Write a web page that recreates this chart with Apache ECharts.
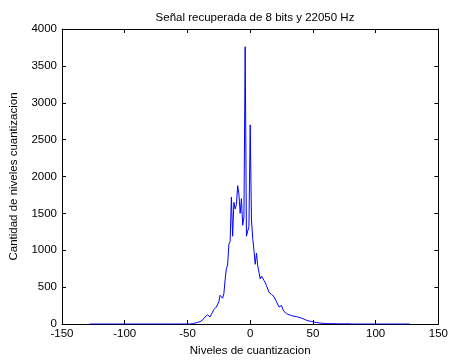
<!DOCTYPE html>
<html>
<head>
<meta charset="utf-8">
<script src="https://cdn.jsdelivr.net/npm/echarts@6/dist/echarts.min.js"></script>
<style>html,body{margin:0;padding:0;background:#fff;}#c{width:451px;height:362px;}</style>
</head>
<body>
<div id="c"></div>
<script>
var titleText = "Señal recuperada de 8 bits y 22050 Hz";
var xName = "Niveles de cuantizacion";
var yName = "Cantidad de niveles cuantizacion";
var levels = [-128,-127,-126,-125,-124,-123,-122,-121,-120,-119,-118,-117,-116,-115,-114,-113,-112,-111,-110,-109,-108,-107,-106,-105,-104,-103,-102,-101,-100,-99,-98,-97,-96,-95,-94,-93,-92,-91,-90,-89,-88,-87,-86,-85,-84,-83,-82,-81,-80,-79,-78,-77,-76,-75,-74,-73,-72,-71,-70,-69,-68,-67,-66,-65,-64,-63,-62,-61,-60,-59,-58,-57,-56,-55,-54,-53,-52,-51,-50,-49,-48,-47,-46,-45,-44,-43,-42,-41,-40,-39,-38,-37,-36,-35,-34,-33,-32,-31,-30,-29,-28,-27,-26,-25,-24,-23,-22,-21,-20,-19,-18,-17,-16,-15,-14,-13,-12,-11,-10,-9,-8,-7,-6,-5,-4,-3,-2,-1,0,1,2,3,4,5,6,7,8,9,10,11,12,13,14,15,16,17,18,19,20,21,22,23,24,25,26,27,28,29,30,31,32,33,34,35,36,37,38,39,40,41,42,43,44,45,46,47,48,49,50,51,52,53,54,55,56,57,58,59,60,61,62,63,64,65,66,67,68,69,70,71,72,73,74,75,76,77,78,79,80,81,82,83,84,85,86,87,88,89,90,91,92,93,94,95,96,97,98,99,100,101,102,103,104,105,106,107,108,109,110,111,112,113,114,115,116,117,118,119,120,121,122,123,124,125,126,127];
var counts = [0,0,0,0,0,0,0,0,0,0,0,0,0,0,0,0,0,0,0,0,0,0,0,0,0,0,0,0,0,0,0,0,0,0,0,0,0,0,0,0,0,0,0,0,0,0,0,0,0,0,0,0,0,0,0,0,0,0,0,0,0,0,0,0,0,0,0,0,0,0,0,0,0,0,0,0,0,0,0,0,0,
3,5,8,12,18,22,28,32,45,55,70,95,120,125,110,95,115,160,195,210,230,250,300,390,370,350,410,600,750,800,1080,1120,1720,1190,1650,1560,1620,1875,1760,1500,1700,1340,1450,3760,1190,1260,1320,
2700,1410,1160,1000,810,960,790,700,610,650,630,590,560,520,540,430,440,400,390,370,360,300,280,230,210,250,200,170,160,140,130,125,120,115,110,105,100,100,95,90,85,80,75,65,55,50,45,40,38,35,30,25,22,20,18,15,12,10,9,8,7,
6,5,5,4,4,5,4,3,3,4,3,3,2,3,2,2,3,2,2,1,
0,0,0,0,0,0,0,0,0,0,0,0,0,0,0,0,0,0,0,0,0,0,0,0,0,0,0,0,0,0,0,0,0,0,0,0,0,0,0,0,0,0,0,0,0,0,0];
var xTicks = [-150,-100,-50,0,50,100,150];
var yTicks = [0,500,1000,1500,2000,2500,3000,3500,4000];

var font = 'Arial, "Liberation Sans", Helvetica, sans-serif';
var fs = 11.5;
var pts = levels.map(function(l,i){return [l, counts[i]];});
var axLine = {show:true, onZero:false, lineStyle:{color:'#000', width:1}};
var tick = {show:true, inside:true, length:4, lineStyle:{color:'#000'}};
var plain = function(v){return String(v);};
var chart = echarts.init(document.getElementById('c'), null, {renderer:'canvas'});
chart.setOption({
  animation:false,
  backgroundColor:'#fff',
  title:{text:titleText, left:250, textAlign:'center', top:7,
    textStyle:{fontFamily:font, fontSize:fs, fontWeight:'normal', color:'#000'}},
  grid:{left:58, right:8, top:29, bottom:33, containLabel:false},
  xAxis:[{type:'value', min:xTicks[0], max:xTicks[xTicks.length-1], interval:50, position:'bottom',
      name:xName, nameLocation:'middle', nameGap:21,
      nameTextStyle:{fontFamily:font, fontSize:fs, color:'#000'},
      axisLine:axLine, axisTick:tick, splitLine:{show:false},
      axisLabel:{fontFamily:font, fontSize:fs, color:'#000', margin:4, formatter:plain}},
    {type:'value', min:xTicks[0], max:xTicks[xTicks.length-1], interval:50, position:'top',
      axisLine:axLine, axisTick:tick, splitLine:{show:false}, axisLabel:{show:false}}],
  yAxis:[{type:'value', min:yTicks[0], max:yTicks[yTicks.length-1], interval:500, position:'left',
      name:yName, nameLocation:'middle', nameGap:42,
      nameTextStyle:{fontFamily:font, fontSize:fs, color:'#000'},
      axisLine:axLine, axisTick:tick, splitLine:{show:false},
      axisLabel:{fontFamily:font, fontSize:fs, color:'#000', margin:5, formatter:plain}},
    {type:'value', min:yTicks[0], max:yTicks[yTicks.length-1], interval:500, position:'right',
      axisLine:axLine, axisTick:tick, splitLine:{show:false}, axisLabel:{show:false}}],
  series:[{type:'line', data:pts, showSymbol:false, symbol:'none',
    lineStyle:{color:'#0000ff', width:1}, itemStyle:{color:'#0000ff'}}]
});
</script>
</body>
</html>
